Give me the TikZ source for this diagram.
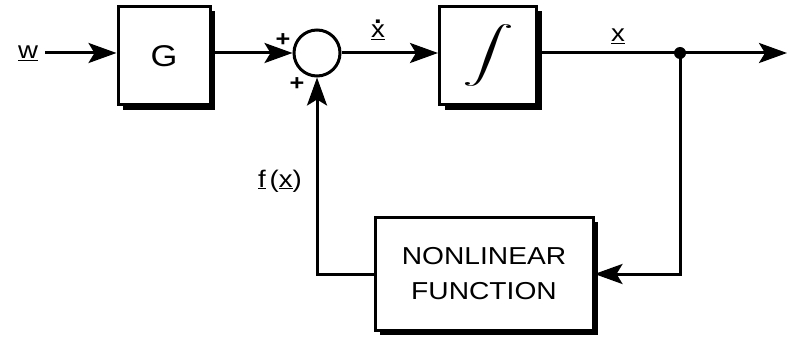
\documentclass[tikz,border=0pt]{standalone}
\usepackage{fontspec}
\setmainfont{Liberation Sans}[FakeStretch=1.15]
\usetikzlibrary{arrows.meta}
\begin{document}
\begin{tikzpicture}[x=1pt,y=-1pt,
  line width=3pt,
  tip/.style={-{Stealth[length=28pt,width=20pt,inset=6pt]}},
  box/.style={draw,fill=white,minimum width=#1,inner sep=0pt,line width=3pt},
  lbl/.style={font=\fontsize{24}{28}\selectfont,inner sep=0pt},
  plus/.style={font=\fontsize{22}{24}\selectfont\bfseries,inner sep=0pt}]
\useasboundingbox (0,0) rectangle (791,344);
% shadows
\fill (123,11) rectangle (215,110);
\fill (445,11) rectangle (542,110);
\fill (380,222) rectangle (598,335);
% blocks
\node[box=92pt,minimum height=98pt,font=\fontsize{30}{34}\selectfont] (G) at (164,56) {G};
\node[box=97pt,minimum height=98pt] (I) at (488,56) {\resizebox*{52pt}{62pt}{$\displaystyle\int$}};
\node[box=218pt,minimum height=113pt,align=center,font=\fontsize{24.5}{35}\selectfont] (N) at (484,274) {NONLINEAR\\FUNCTION};
\node[draw,circle,minimum size=46pt,inner sep=0pt] (S) at (317,53) {};
% coordinates
\coordinate (w) at (45,53);
\coordinate (d) at (680,53);
\coordinate (o) at (787,53);
\coordinate (c1) at (680,274);
\coordinate (c2) at (317,274);
\fill (d) circle (6pt);
% labels
\node[lbl] (lw) at (28,53) {\underline{w}};
\node[lbl,align=center,font=\fontsize{24}{12}\selectfont] (lxd) at (378,30) {\textbf{.}\\\underline{x}};
\node[lbl] (lx) at (618,36) {\underline{x}};
\node[lbl] (lf) at (280,181) {\underline{f}\,(\underline{x})};
\node[plus] (p1) at (283,40) {+};
\node[plus] (p2) at (297,84) {+};
% connectors
\draw[tip] (w) -- (G.west |- w);
\draw[tip] (G.east |- S) -- (S.west);
\draw[tip] (S.east) -- (I.west |- S);
\draw (I.east |- d) -- (d);
\draw[tip] (d) -- (o);
\draw[tip] (d) -- (c1) -- (N.east |- c1);
\draw[tip] (N.west |- c2) -- (c2) -- (S.south);
\end{tikzpicture}
\end{document}
